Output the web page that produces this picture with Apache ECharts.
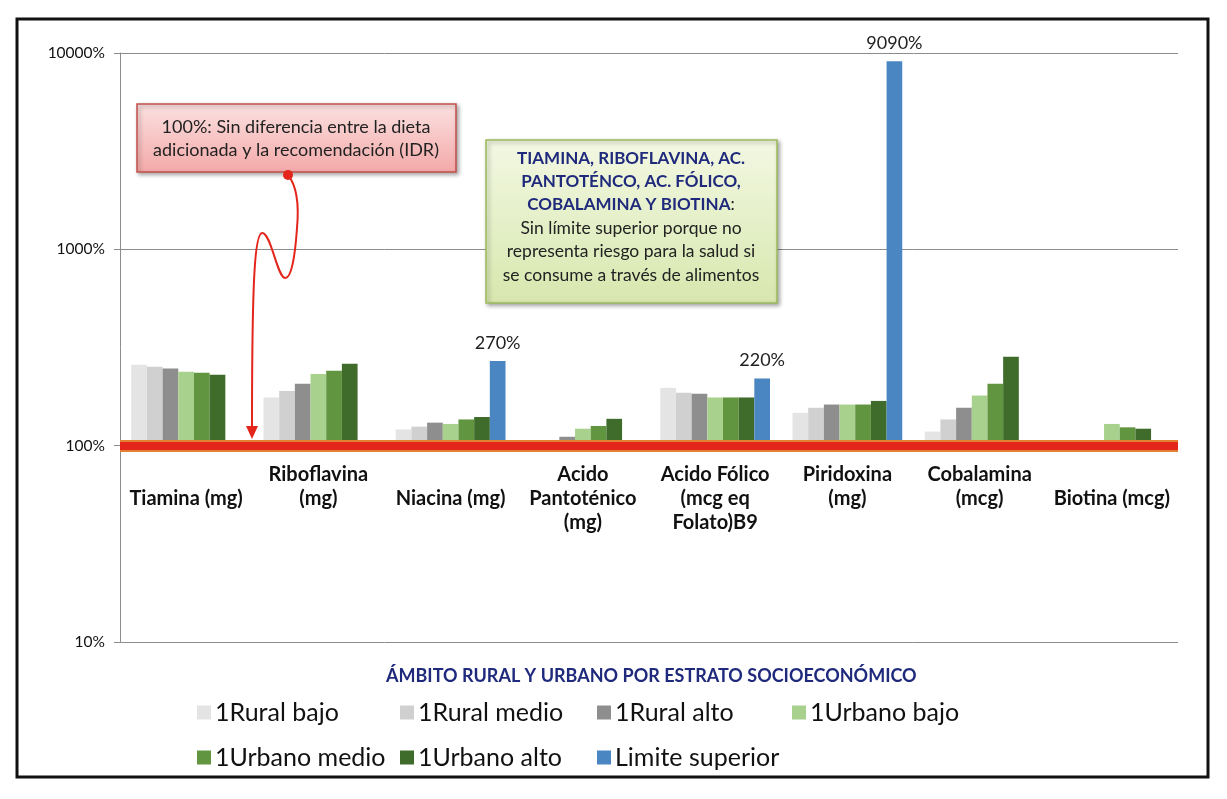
<!DOCTYPE html>
<html>
<head>
<meta charset="utf-8">
<script src="https://cdn.jsdelivr.net/npm/echarts@6/dist/echarts.min.js"></script>
<style>
html,body{margin:0;padding:0;background:#fff;}
#chart{width:1227px;height:799px;}
</style>
</head>
<body>
<div id="chart"></div>
<script>
const categories = ['Tiamina (mg)', 'Riboflavina (mg)', 'Niacina (mg)', 'Acido Pantoténico (mg)', 'Acido Fólico (mcg eq Folato)B9', 'Piridoxina (mg)', 'Cobalamina (mcg)', 'Biotina (mcg)'];
const categoryLabels = ['\nTiamina (mg)', 'Riboflavina\n(mg)', '\nNiacina (mg)', 'Acido\nPantoténico\n(mg)', 'Acido Fólico\n(mcg eq\nFolato)B9', 'Piridoxina\n(mg)', 'Cobalamina\n(mcg)', '\nBiotina (mcg)'];
const seriesNames = ['1Rural bajo', '1Rural medio', '1Rural alto', '1Urbano bajo', '1Urbano medio', '1Urbano alto', 'Limite superior'];
// values in percent of the recommendation (IDR)
const ruralBajo   = [258, 176, 121, 95, 197, 147, 118, 97];
const ruralMedio  = [252, 190, 125, 100, 186, 156, 136, 101];
const ruralAlto   = [247, 207, 131, 111, 184, 162, 156, 102];
const urbanoBajo  = [238, 232, 129, 122, 176, 162, 180, 129];
const urbanoMedio = [235, 241, 136, 126, 176, 162, 207, 124];
const urbanoAlto  = [230, 261, 140, 137, 176, 169, 284, 122];
const limiteSuperior = [null, null, 270, null, 220, 9090, null, null];
const yTicks = [10, 100, 1000, 10000];

const colors = ['#e4e4e4', '#d0d0d0', '#8e8e8e', '#a9d18e', '#62953f', '#3f6b2b', '#4a86c1'];
const allValues = [ruralBajo, ruralMedio, ruralAlto, urbanoBajo, urbanoMedio, urbanoAlto, limiteSuperior];

const chart = echarts.init(document.getElementById('chart'), null, {renderer: 'canvas'});
const FONT = 'Lato, "Open Sans", sans-serif';
const gridTop = 53, gridBottom = 157, chartH = 799;
const gridH = chartH - gridTop - gridBottom;
const xOffset = -gridH * (Math.log10(100) - Math.log10(yTicks[0])) / (Math.log10(yTicks[3]) - Math.log10(yTicks[0]));

const series = allValues.map((vals, i) => {
  const s = {
    name: seriesNames[i],
    type: 'bar',
    barGap: '0%',
    barCategoryGap: '17%',
    itemStyle: {color: colors[i]},
    data: vals.map(v => v == null ? null : v / 100)
  };
  if (i === 6) {
    s.label = {
      show: true, position: 'top', distance: 9,
      fontFamily: FONT, fontSize: 18, color: '#222',
      formatter: p => Math.round(p.value * 100) + '%'
    };
    s.markLine = {
      silent: true, symbol: 'none', label: {show: false},
      data: [
        {yAxis: 1, lineStyle: {color: '#e2812f', width: 12, type: 'solid'}},
        {yAxis: 1, lineStyle: {color: '#e3251c', width: 8, type: 'solid'}}
      ]
    };
  }
  return s;
});

const legendPos = [[197, 700], [400, 700], [597, 700], [792, 700], [197, 745], [400, 745], [597, 745]];
const legends = seriesNames.map((n, i) => ({
  data: [n], left: legendPos[i][0], top: legendPos[i][1], padding: 0,
  icon: 'rect', itemWidth: 14, itemHeight: 14, selectedMode: false,
  textStyle: {fontFamily: FONT, fontSize: 25, color: '#111', padding: [0, 0, 0, -1]}
}));

const red = '#e3251c';
const option = {
  animation: false,
  backgroundColor: '#fff',
  title: {
    text: 'ÁMBITO RURAL Y URBANO POR ESTRATO SOCIOECONÓMICO',
    left: 381, top: 662,
    textStyle: {fontFamily: FONT, fontSize: 18, fontWeight: 'bold', color: '#1f2a7c'}
  },
  legend: legends,
  grid: {left: 120, right: 49, top: gridTop, bottom: gridBottom},
  xAxis: {
    type: 'category',
    data: categories,
    offset: xOffset,
    axisLine: {show: false},
    axisTick: {show: false},
    axisLabel: {
      margin: 17, interval: 0, verticalAlign: 'top',
      fontFamily: FONT, fontSize: 20, fontWeight: 'bold', color: '#111', lineHeight: 24,
      formatter: (v, idx) => categoryLabels[idx]
    }
  },
  yAxis: {
    type: 'log', logBase: 10, min: yTicks[0] / 100, max: yTicks[3] / 100,
    axisLine: {show: true, lineStyle: {color: '#8c8c8c'}},
    axisTick: {show: true, length: 6, lineStyle: {color: '#8c8c8c'}},
    splitLine: {lineStyle: {color: '#8c8c8c'}},
    axisLabel: {
      margin: 15, fontFamily: FONT, fontSize: 15.5, color: '#111',
      formatter: v => Math.round(v * 100) + '%'
    }
  },
  series: series,
  graphic: [
    {type: 'rect', z: 100, shape: {x: 17, y: 19, width: 1191, height: 758},
     style: {fill: 'none', stroke: '#111', lineWidth: 3}},
    // pink annotation box
    {type: 'rect', z: 100, shape: {x: 137, y: 104, width: 319, height: 68},
     style: {
       fill: new echarts.graphic.LinearGradient(0, 0, 0, 1, [{offset: 0, color: '#fbe1e1'}, {offset: 1, color: '#f3a9a8'}]),
       stroke: '#c24f4c', lineWidth: 1.5, shadowBlur: 4, shadowColor: 'rgba(0,0,0,0.35)', shadowOffsetX: 2, shadowOffsetY: 2
     }},
    {type: 'text', z: 101, style: {x: 296, y: 127, text: '100%: Sin diferencia entre la dieta', textAlign: 'center', textVerticalAlign: 'middle', font: '18px ' + FONT, fill: '#222'}},
    {type: 'text', z: 101, style: {x: 296, y: 150, text: 'adicionada y la recomendación (IDR)', textAlign: 'center', textVerticalAlign: 'middle', font: '18px ' + FONT, fill: '#222'}},
    // green annotation box
    {type: 'rect', z: 100, shape: {x: 486, y: 140, width: 291, height: 163},
     style: {
       fill: new echarts.graphic.LinearGradient(0, 0, 0, 1, [{offset: 0, color: '#f3f8e3'}, {offset: 1, color: '#d7e7ae'}]),
       stroke: '#9bbb59', lineWidth: 1.5, shadowBlur: 4, shadowColor: 'rgba(0,0,0,0.35)', shadowOffsetX: 2, shadowOffsetY: 2
     }},
    {type: 'text', z: 101, style: {x: 631, y: 159, text: 'TIAMINA, RIBOFLAVINA, AC.', textAlign: 'center', textVerticalAlign: 'middle', font: 'bold 17px ' + FONT, fill: '#1f2a7c'}},
    {type: 'text', z: 101, style: {x: 631, y: 182, text: 'PANTOTÉNCO, AC. FÓLICO,', textAlign: 'center', textVerticalAlign: 'middle', font: 'bold 17px ' + FONT, fill: '#1f2a7c'}},
    {type: 'text', z: 101, style: {x: 631, y: 205, text: '{b|COBALAMINA Y BIOTINA}{n|:}', textAlign: 'center', textVerticalAlign: 'middle',
      rich: {b: {fontFamily: FONT, fontSize: 17, fontWeight: 'bold', fill: '#1f2a7c', color: '#1f2a7c'}, n: {fontFamily: FONT, fontSize: 17, fill: '#222', color: '#222'}}}},
    {type: 'text', z: 101, style: {x: 631, y: 228, text: 'Sin límite superior porque no', textAlign: 'center', textVerticalAlign: 'middle', font: '17.5px ' + FONT, fill: '#222'}},
    {type: 'text', z: 101, style: {x: 631, y: 251, text: 'representa riesgo para la salud si', textAlign: 'center', textVerticalAlign: 'middle', font: '17.5px ' + FONT, fill: '#222'}},
    {type: 'text', z: 101, style: {x: 631, y: 275, text: 'se consume a través de alimentos', textAlign: 'center', textVerticalAlign: 'middle', font: '17.5px ' + FONT, fill: '#222'}},
    // curved arrow
    {type: 'bezierCurve', z: 102, shape: {x1: 288, y1: 175, cpx1: 297, cpy1: 186, cpx2: 299, cpy2: 206, x2: 297, y2: 228}, style: {fill: 'none', stroke: red, lineWidth: 2}},
    {type: 'bezierCurve', z: 102, shape: {x1: 297, y1: 228, cpx1: 295, cpy1: 258, cpx2: 291, cpy2: 279, x2: 285, y2: 278}, style: {fill: 'none', stroke: red, lineWidth: 2}},
    {type: 'bezierCurve', z: 102, shape: {x1: 285, y1: 278, cpx1: 277, cpy1: 277, cpx2: 271, cpy2: 232, x2: 262, y2: 233}, style: {fill: 'none', stroke: red, lineWidth: 2}},
    {type: 'bezierCurve', z: 102, shape: {x1: 262, y1: 233, cpx1: 255, cpy1: 234, cpx2: 252, cpy2: 275, x2: 252, y2: 428}, style: {fill: 'none', stroke: red, lineWidth: 2}},
    {type: 'circle', z: 103, shape: {cx: 288, cy: 175, r: 5}, style: {fill: red}},
    {type: 'polygon', z: 103, shape: {points: [[246, 426], [258, 426], [252, 439]]}, style: {fill: red}}
  ]
};
chart.setOption(option);
</script>
</body>
</html>
